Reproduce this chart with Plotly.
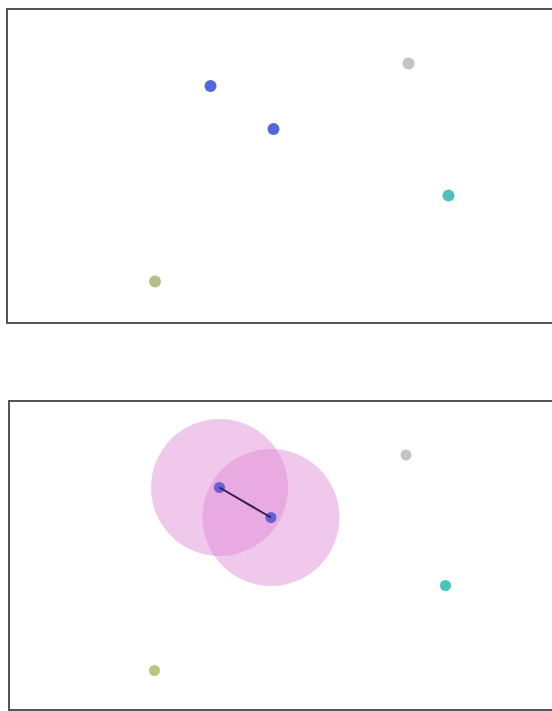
import plotly.graph_objects as go

# ---- data (units: panel coordinates, origin at each panel's lower-left) ----
labels = ["core A", "core B", "noise", "cluster 2", "cluster 3"]
colors_top = ["#5566dd", "#5566dd", "#c4c4c4", "#4fc0c2", "#b6bf8c"]
colors_bottom = ["#6a5ed4", "#6a5ed4", "#c4c4c4", "#45c6b8", "#b9c47e"]

top_x = [4.05, 5.31, 8.01, 8.81, 2.94]
top_y = [4.72, 3.86, 5.17, 2.53, 0.81]

bottom_x = [4.20, 5.23, 7.93, 8.72, 2.90]
bottom_y = [4.43, 3.83, 5.08, 2.47, 0.77]

eps = 1.37            # neighbourhood radius drawn around the two linked points
linked = [0, 1]       # indices of the pair joined by a line in the lower panel

W, H = 552, 711
top_dom_x = [8 / W, 1]
top_dom_y = [1 - 322 / H, 1 - 10 / H]
bot_dom_x = [9.5 / W, 1]
bot_dom_y = [1 - 709 / H, 1 - 402 / H]
px_per_unit = 50.0

fig = go.Figure()

fig.add_trace(go.Scatter(
    x=top_x, y=top_y, mode="markers", xaxis="x", yaxis="y",
    marker=dict(size=12, color=colors_top, line=dict(width=0)),
    text=labels, hoverinfo="text", showlegend=False))

# neighbourhood circles
for i in linked:
    fig.add_shape(type="circle", xref="x2", yref="y2",
                  x0=bottom_x[i] - eps, x1=bottom_x[i] + eps,
                  y0=bottom_y[i] - eps, y1=bottom_y[i] + eps,
                  fillcolor="rgba(222,133,213,0.45)", line=dict(width=0),
                  layer="below")

fig.add_trace(go.Scatter(
    x=bottom_x, y=bottom_y, mode="markers", xaxis="x2", yaxis="y2",
    marker=dict(size=11, color=colors_bottom, line=dict(width=0)),
    text=labels, hoverinfo="text", showlegend=False))

# link between the two points
fig.add_trace(go.Scatter(
    x=[bottom_x[i] for i in linked], y=[bottom_y[i] for i in linked],
    mode="lines", xaxis="x2", yaxis="y2",
    line=dict(color="#33204f", width=2), hoverinfo="skip", showlegend=False))

axis_common = dict(showgrid=False, zeroline=False, showticklabels=False,
                   ticks="", showline=True, linecolor="#555555", linewidth=2,
                   fixedrange=True)

fig.update_layout(
    width=W, height=H, autosize=False,
    margin=dict(l=0, r=0, t=0, b=0),
    paper_bgcolor="white", plot_bgcolor="rgba(0,0,0,0)",
    xaxis=dict(domain=top_dom_x, range=[0, (W - 8) / px_per_unit],
               anchor="y", mirror=True, **axis_common),
    yaxis=dict(domain=top_dom_y, range=[0, 312 / px_per_unit],
               anchor="x", mirror=False, **axis_common),
    xaxis2=dict(domain=bot_dom_x, range=[0, (W - 9.5) / px_per_unit],
                anchor="y2", mirror=True, **axis_common),
    yaxis2=dict(domain=bot_dom_y, range=[0, 307 / px_per_unit],
                anchor="x2", mirror=False, **axis_common),
)

fig.write_html("out.html", config={"displayModeBar": False},
               post_script="document.body.style.margin='0px';"
                           "document.body.style.overflow='hidden';")
